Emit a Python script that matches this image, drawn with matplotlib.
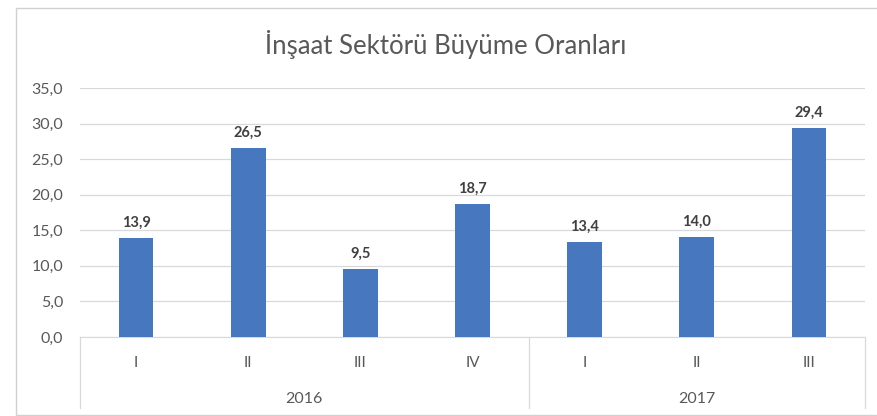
import matplotlib

matplotlib.use("Agg")
import matplotlib.pyplot as plt
from matplotlib.patches import Rectangle

# data
quarters = ["I", "II", "III", "IV", "I", "II", "III"]
years = ["2016", "2017"]
year_spans = [(0, 3), (4, 6)]  # first and last quarter index of each year
growth = [13.9, 26.5, 9.5, 18.7, 13.4, 14.0, 29.4]

title = "İnşaat Sektörü Büyüme Oranları"

plt.rcParams["font.family"] = ["Lato", "DejaVu Sans"]

grey_text = "#595959"
grid_col = "#D9D9D9"
bar_col = "#4677BF"


def fmt(v):
    return f"{v:.1f}".replace(".", ",")


fig = plt.figure(figsize=(8.77, 4.16), dpi=100)
ax = fig.add_axes([0.0912, 0.19, 0.8951, 0.5985])

x = list(range(len(growth)))
bars = ax.bar(x, growth, width=0.31, color=bar_col, zorder=3)

# value labels above bars
for rect, v in zip(bars, growth):
    ax.annotate(
        fmt(v),
        (rect.get_x() + rect.get_width() / 2, rect.get_height()),
        xytext=(0, 6),
        textcoords="offset points",
        ha="center",
        va="bottom",
        fontsize=10.5,
        fontweight="bold",
        color="#404040",
    )

ax.set_xlim(-0.5, len(growth) - 0.5)
ax.set_ylim(0, 35)
yt = [i * 5.0 for i in range(8)]
ax.set_yticks(yt)
ax.set_yticklabels([fmt(t) for t in yt], color=grey_text, fontsize=11.5)
ax.tick_params(axis="y", length=0, pad=12)
ax.grid(axis="y", color=grid_col, linewidth=0.9, zorder=0)

for s in ["top", "right", "left"]:
    ax.spines[s].set_visible(False)
ax.spines["bottom"].set_color(grid_col)

# two level category axis, drawn by hand
ax.set_xticks([])
trans = ax.get_xaxis_transform()
for i, q in enumerate(quarters):
    ax.text(i, -0.105, q, transform=trans, ha="center", va="center",
            fontsize=11, color=grey_text)
for yr, (a, b) in zip(years, year_spans):
    ax.text((a + b) / 2, -0.25, yr, transform=trans, ha="center",
            va="center", fontsize=11.5, color=grey_text)
seps = [-0.5] + [b + 0.5 for _, b in year_spans]
for sx in seps:
    ax.plot([sx, sx], [0, -0.285], transform=trans, color=grid_col,
            linewidth=0.9, clip_on=False)

fig.text(0.508, 0.892, title, ha="center", va="center", fontsize=18.5,
         color=grey_text)

# light chart border
fig.patches.append(
    Rectangle((0.018, 0.002), 1.0, 0.979, transform=fig.transFigure,
              fill=False, edgecolor="#D0D0D0", linewidth=1.0)
)

fig.savefig("out.png", dpi=100)
